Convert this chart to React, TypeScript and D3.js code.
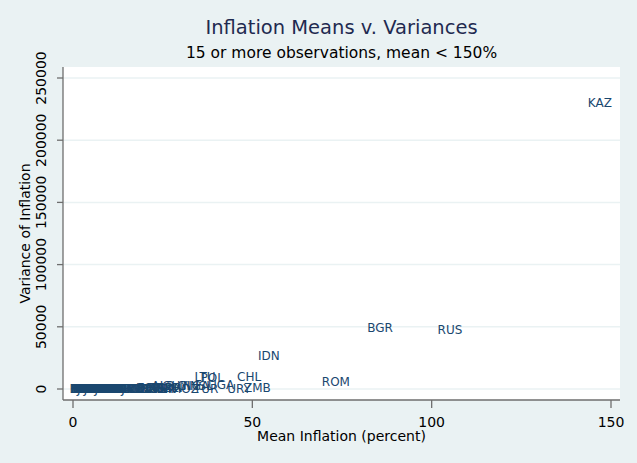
import React from "react";
import * as d3 from "d3";

// country codes, mean inflation (percent) and variance of inflation
const countries = [
  "CHE", "DEU", "AUT", "NLD", "BEL", "USA", "JPN", "CAN", "LUX", "SGP",
  "MYS", "MLT", "PAN", "BHR", "SAU", "KWT", "CYP", "THA", "SWE", "NOR",
  "DNK", "FRA", "GBR", "AUS", "FIN", "TUN", "MAR", "JOR", "ITA", "ESP",
  "NZL", "IRL", "IND", "PAK", "BGD", "NPL", "KOR", "EGY", "LKA", "FJI",
  "CMR", "CIV", "SEN", "BFA", "GAB", "TTO", "GTM", "HND", "SLV", "PHL",
  "SYR", "PRT", "GRC", "KEN", "HTI", "CRI", "DOM", "JAM", "PRY", "IRN",
  "COL", "TZA", "MWI", "ECU", "MEX", "VEN", "SDN", "HUN", "MDG", "GMB",
  "BDI", "ZAF", "EST", "LVA", "SLE", "GNB", "SVN", "MNG",
  "ALB", "GUY", "GIN", "NGA", "ISL", "UGA", "MOZ", "TUR", "URY", "ZMB",
  "LTU", "POL", "CHL", "ROM", "IDN", "BGR", "RUS", "KAZ",
];
const means = [
  3.3, 2.9, 3.8, 3.9, 4.1, 4.2, 3.9, 4.3, 3.7, 2.9,
  3.5, 3.1, 2.5, 2.6, 3.0, 3.2, 4.6, 5.0, 5.4, 5.3,
  5.5, 5.5, 6.2, 5.9, 6.1, 5.4, 5.8, 6.0, 7.1, 8.2,
  6.8, 6.9, 7.8, 7.9, 8.5, 8.6, 9.0, 9.3, 9.6, 6.0,
  6.8, 6.5, 5.2, 4.5, 6.2, 8.5, 9.8, 10.2, 10.0, 10.6,
  10.4, 11.2, 11.4, 11.5, 13.0, 14.6, 13.8, 16.5, 14.0, 16.8,
  18.5, 19.0, 17.5, 22.5, 24.0, 25.5, 27.0, 11.0, 14.5, 12.5,
  12.0, 9.8, 21.0, 20.5, 26.5, 24.0, 23.0, 22.0,
  25.1, 28.4, 32.1, 34.3, 36.5, 41.3, 31.2, 37.1, 46.3, 51.4,
  36.8, 38.8, 49.1, 73.3, 54.6, 85.6, 105.1, 146.9,
];
const variances = [
  6, 4, 5, 9, 8, 9, 20, 9, 6, 14,
  9, 8, 7, 10, 30, 12, 10, 25, 11, 10,
  12, 16, 24, 15, 19, 10, 16, 30, 32, 33,
  26, 34, 30, 28, 60, 22, 45, 35, 42, 18,
  45, 40, 38, 30, 50, 30, 85, 70, 60, 85,
  95, 60, 65, 75, 60, 160, 210, 150, 110, 90,
  40, 90, 150, 500, 600, 500, 700, 40, 120, 110,
  100, 20, 900, 800, 700, 800, 400, 600,
  2600, 2400, 2600, 2300, 2900, 3200, 300, 200, 300, 800,
  9700, 9300, 9650, 5630, 26500, 49000, 47400, 229900,
];

const xTicks = [0, 50, 100, 150];
const yTicks = [0, 50000, 100000, 150000, 200000, 250000];

const W = 637;
const H = 463;
const PLOT = { left: 63, top: 67, right: 620, bottom: 400 };
const BG = "#eaf2f3";
const FONT = "DejaVu Sans, sans-serif";

export default function App() {
  const x = d3.scaleLinear().domain([0, 150]).range([73, 611]);
  const y = d3.scaleLinear().domain([0, 250000]).range([389, 78]);
  const cx = (PLOT.left + PLOT.right) / 2;

  return (
    <svg
      width={W}
      height={H}
      style={{ position: "fixed", left: 0, top: 0, fontFamily: FONT }}
    >
      <rect width={W} height={H} fill={BG} />
      <rect
        x={PLOT.left}
        y={PLOT.top}
        width={PLOT.right - PLOT.left}
        height={PLOT.bottom - PLOT.top}
        fill="#fff"
      />
      {/* gridlines */}
      {yTicks.map((t) => (
        <line key={"g" + t} x1={PLOT.left} x2={PLOT.right} y1={y(t)} y2={y(t)} stroke={BG} strokeWidth={1.5} />
      ))}

      {/* titles */}
      <text x={cx} y={34} textAnchor="middle" fontSize={19.5} fill="#1f2a50">
        Inflation Means v. Variances
      </text>
      <text x={cx} y={58} textAnchor="middle" fontSize={15.5} fill="#000">
        15 or more observations, mean &lt; 150%
      </text>

      {/* marker labels, centred on the point */}
      <g fontSize={12} fill="#1a476f" textAnchor="middle">
        {countries.map((c, i) => (
          <text key={c} x={x(means[i])} y={y(variances[i])} dy="0.36em">
            {c}
          </text>
        ))}
      </g>

      {/* axes */}
      <line x1={PLOT.left} x2={PLOT.left} y1={PLOT.top} y2={PLOT.bottom} stroke="#6e6e6e" strokeWidth={1.3} />
      <line x1={PLOT.left} x2={PLOT.right} y1={PLOT.bottom} y2={PLOT.bottom} stroke="#6e6e6e" strokeWidth={1.3} />
      {yTicks.map((t) => (
        <g key={"y" + t}>
          <line x1={57} x2={PLOT.left} y1={y(t)} y2={y(t)} stroke="#6e6e6e" strokeWidth={1.3} />
          <text transform={`translate(46,${y(t)}) rotate(-90)`} textAnchor="middle" fontSize={14} fill="#000">
            {t}
          </text>
        </g>
      ))}
      {xTicks.map((t) => (
        <g key={"x" + t}>
          <line x1={x(t)} x2={x(t)} y1={PLOT.bottom} y2={408} stroke="#6e6e6e" strokeWidth={1.3} />
          <text x={x(t)} y={427} textAnchor="middle" fontSize={14} fill="#000">
            {t}
          </text>
        </g>
      ))}
      <text x={cx} y={441} textAnchor="middle" fontSize={14} fill="#000">
        Mean Inflation (percent)
      </text>
      <text transform={`translate(30,${(PLOT.top + PLOT.bottom) / 2}) rotate(-90)`} textAnchor="middle" fontSize={14} fill="#000">
        Variance of Inflation
      </text>
    </svg>
  );
}
